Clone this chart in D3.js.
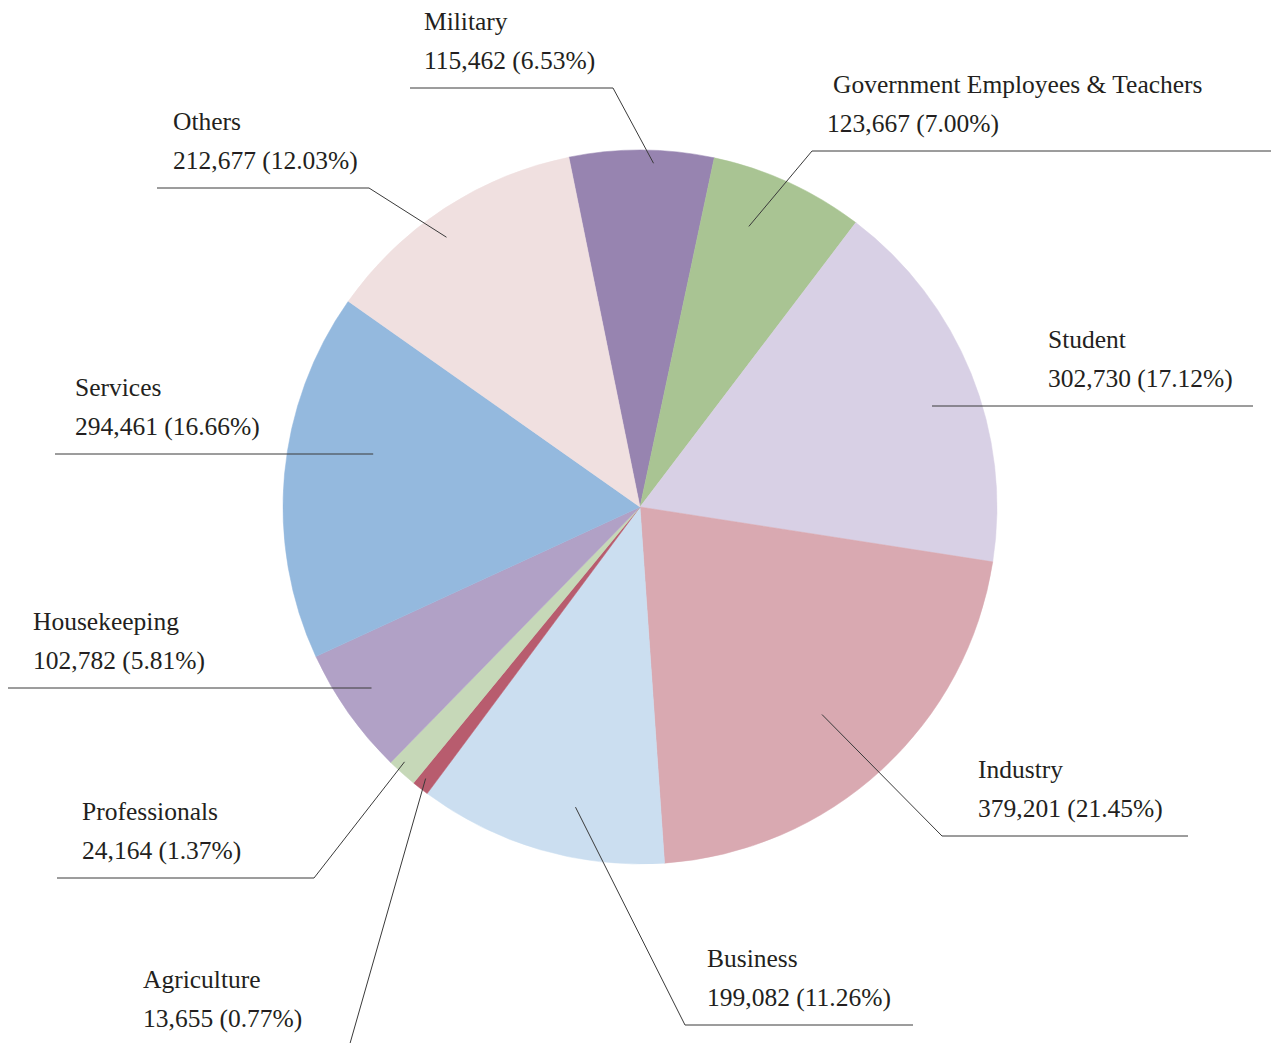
<!DOCTYPE html>
<html>
<head>
<meta charset="utf-8">
<script src="https://cdn.jsdelivr.net/npm/d3@7"></script>
<style>
  html, body { margin: 0; padding: 0; background: #fff; }
  svg { display: block; }
  text { font-family: "Liberation Serif", "Times New Roman", serif; font-size: 25.5px; fill: #231f20; }
</style>
</head>
<body>
<svg id="chart" width="1271" height="1043"></svg>
<script>
// ---- data ----
const categories = ["Military", "Government Employees & Teachers", "Student", "Industry", "Business",
                    "Agriculture", "Professionals", "Housekeeping", "Services", "Others"];
const counts = [115462, 123667, 302730, 379201, 199082, 13655, 24164, 102782, 294461, 212677];
const percents = ["6.53%", "7.00%", "17.12%", "21.45%", "11.26%", "0.77%", "1.37%", "5.81%", "16.66%", "12.03%"];
const sliceColors = ["#9784b0", "#a9c493", "#d8d0e5", "#d9a9b1", "#cbdef0",
                     "#b85c6e", "#c6d8b8", "#b1a1c6", "#94b9de", "#f0e0e0"];

// ---- label layout (anchor: angle offset from slice middle in degrees, radius; elbow; end of rule; text x) ----
const labelLayout = [
  { dAng: 2.0,  r: 344, elbow: [613, 88],   endX: 410,  nameX: 424,  valueX: 424 },
  { dAng: -3.4, r: 301, elbow: [812, 151],  endX: 1271, nameX: 833,  valueX: 827 },
  { dAng: 2.9,  r: 309, elbow: null,        endX: 1253, nameX: 1048, valueX: 1048 },
  { dAng: 1.3,  r: 276, elbow: [942, 836],  endX: 1188, nameX: 978,  valueX: 978 },
  { dAng: -4.2, r: 307, elbow: [685, 1025], endX: 913,  nameX: 707,  valueX: 707 },
  { dAng: 0.3,  r: 346, elbow: [349, 1047], endX: 120,  nameX: 143,  valueX: 143, textLineY: 1046 },
  { dAng: 0.9,  r: 347, elbow: [314, 878],  endX: 57,   nameX: 82,   valueX: 82 },
  { dAng: 1.2,  r: 324, elbow: null,        endX: 8,    nameX: 33,   valueX: 33 },
  { dAng: 6.0,  r: 272, elbow: null,        endX: 55,   nameX: 75,   valueX: 75 },
  { dAng: -2.5, r: 332, elbow: [369, 188],  endX: 157,  nameX: 173,  valueX: 173 }
];

const cx = 640, cy = 507, radius = 357;
const startDeg = -11.5;

const data = categories.map((c, i) => ({ name: c, value: counts[i], pct: percents[i], color: sliceColors[i], layout: labelLayout[i] }));

const svg = d3.select("#chart");
const g = svg.append("g").attr("transform", `translate(${cx},${cy})`);

const pie = d3.pie()
  .sort(null)
  .value(d => d.value)
  .startAngle(startDeg * Math.PI / 180)
  .endAngle((startDeg + 360) * Math.PI / 180);

const arcs = pie(data);
const arc = d3.arc().innerRadius(0).outerRadius(radius);

g.selectAll("path.slice")
  .data(arcs)
  .join("path")
  .attr("class", "slice")
  .attr("d", arc)
  .attr("fill", d => d.data.color)
  .attr("stroke", d => d.data.color)
  .attr("stroke-width", 0.5);

const fmt = d3.format(",");
const lineGen = d3.line();

arcs.forEach(a => {
  const L = a.data.layout;
  const mid = (a.startAngle + a.endAngle) / 2 + L.dAng * Math.PI / 180;
  const ax = cx + L.r * Math.sin(mid);
  const ay = cy - L.r * Math.cos(mid);
  let pts, lineY;
  if (L.elbow) {
    pts = [[ax, ay], L.elbow, [L.endX, L.elbow[1]]];
    lineY = L.elbow[1];
  } else {
    lineY = Math.round(ay);
    pts = [[ax, lineY], [L.endX, lineY]];
  }
  svg.append("path")
    .attr("d", lineGen(pts))
    .attr("fill", "none")
    .attr("stroke", "#3a3a3a")
    .attr("stroke-width", 1);

  const ty = L.textLineY !== undefined ? L.textLineY : lineY;
  svg.append("text")
    .attr("x", L.nameX)
    .attr("y", ty - 58)
    .text(a.data.name);
  svg.append("text")
    .attr("x", L.valueX)
    .attr("y", ty - 19)
    .text(`${fmt(a.data.value)} (${a.data.pct})`);
});
</script>
</body>
</html>
